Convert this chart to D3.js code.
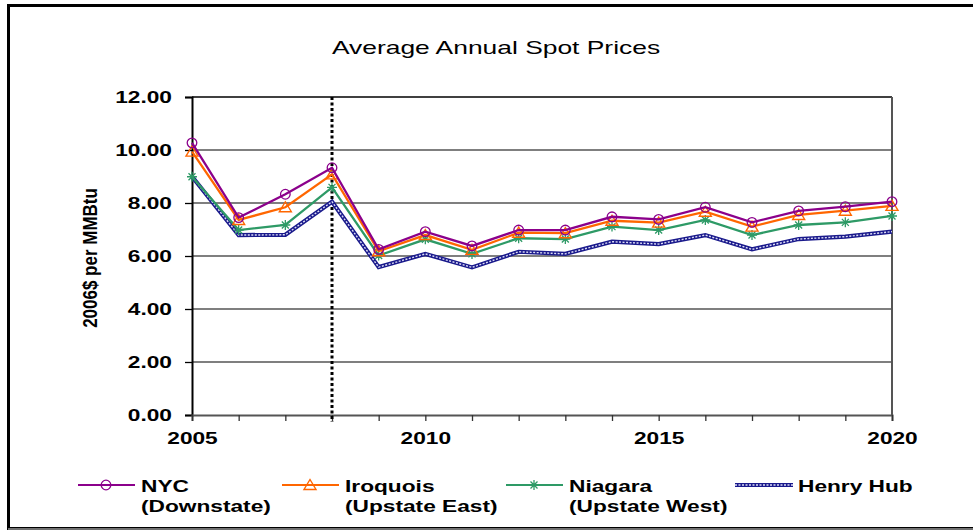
<!DOCTYPE html>
<html>
<head>
<meta charset="utf-8">
<script src="https://cdn.jsdelivr.net/npm/d3@7"></script>
<style>
  body { margin: 0; background: #fff; }
  svg { display: block; font-family: "Liberation Sans", Arial, sans-serif; }
</style>
</head>
<body>
<div id="chart"></div>
<script>
const years = d3.range(2005, 2021);
const nyc = [10.27, 7.45, 8.33, 9.33, 6.25, 6.92, 6.38, 6.98, 6.98, 7.48, 7.38, 7.84, 7.27, 7.70, 7.86, 8.05];
const iroquois = [9.94, 7.36, 7.84, 9.08, 6.18, 6.79, 6.23, 6.88, 6.86, 7.33, 7.26, 7.67, 7.11, 7.55, 7.71, 7.89];
const niagara = [8.99, 6.98, 7.17, 8.59, 6.02, 6.63, 6.08, 6.67, 6.64, 7.11, 6.98, 7.36, 6.79, 7.17, 7.27, 7.51];
const henryHub = [9.00, 6.79, 6.80, 8.05, 5.58, 6.08, 5.57, 6.16, 6.08, 6.54, 6.45, 6.79, 6.25, 6.64, 6.73, 6.92];
const yTicks = [0, 2, 4, 6, 8, 10, 12];
const xLabels = [2005, 2010, 2015, 2020];
const markerYear = 2008;

const series = [
  { name: ['NYC', '(Downstate)'], values: nyc, color: '#8B008B', marker: 'circle' },
  { name: ['Iroquois', '(Upstate East)'], values: iroquois, color: '#FF6600', marker: 'triangle' },
  { name: ['Niagara', '(Upstate West)'], values: niagara, color: '#2E9A66', marker: 'star' },
  { name: ['Henry Hub'], values: henryHub, color: '#000080', marker: 'none' },
];

const W = 973, H = 531;
const SX = 1.42; // the original picture is stretched sideways, text too

const svg = d3.select('#chart').append('svg').attr('width', W).attr('height', H);

// widen a text element around its own anchor point
function widen(sel) {
  sel.each(function () {
    const t = d3.select(this);
    const tx = +t.attr('x') || 0;
    const ty = +t.attr('y') || 0;
    t.attr('x', 0).attr('y', 0).attr('transform', `translate(${tx},${ty}) scale(${SX},1)`);
  });
}

// outer frame
svg.append('rect').attr('x', 8.5).attr('y', 5.5).attr('width', W + 10).attr('height', 523)
  .attr('fill', 'none').attr('stroke', '#000').attr('stroke-width', 3);
svg.append('line').attr('x1', 8).attr('x2', W).attr('y1', 529).attr('y2', 529)
  .attr('stroke', '#999').attr('stroke-width', 1.5);

const x = d3.scaleLinear().domain([2005, 2020]).range([192, 892]);
const y = d3.scaleLinear().domain([0, 12]).range([415, 97]);

svg.append('text').attr('x', 496).attr('y', 54).attr('text-anchor', 'middle')
  .attr('font-size', 18.6).text('Average Annual Spot Prices')
  .call(widen);

// grid
svg.append('g').selectAll('line').data(yTicks.filter((d) => d > 0)).join('line')
  .attr('x1', 192).attr('x2', 892).attr('y1', (d) => y(d)).attr('y2', (d) => y(d))
  .attr('stroke', (d) => (d === 12 ? '#000' : '#555')).attr('stroke-width', 1.3);
svg.append('line').attr('x1', 892).attr('x2', 892).attr('y1', 97).attr('y2', 415)
  .attr('stroke', '#555').attr('stroke-width', 2);

// y axis
const yAxis = svg.append('g').attr('transform', 'translate(192,0)')
  .call(d3.axisLeft(y).tickValues(yTicks).tickSize(7).tickPadding(13).tickFormat(d3.format('.2f')));
yAxis.select('.domain').attr('stroke', '#000').attr('stroke-width', 2);
yAxis.selectAll('.tick line').attr('stroke', '#000').attr('stroke-width', 1.3);
yAxis.selectAll('text').attr('font-size', 16).attr('font-weight', 'bold')
  .attr('font-family', '"Liberation Sans", Arial, sans-serif').attr('fill', '#000')
  .call(widen);

// x axis
const xAxis = svg.append('g').attr('transform', 'translate(0,415)')
  .call(d3.axisBottom(x).tickValues(years).tickSize(6).tickPadding(12)
    .tickFormat((d) => (xLabels.includes(d) ? d : '')));
xAxis.select('.domain').attr('stroke', '#555').attr('stroke-width', 2);
xAxis.selectAll('.tick line').attr('stroke', '#333').attr('stroke-width', 1.3);
xAxis.selectAll('text').attr('font-size', 16).attr('font-weight', 'bold')
  .attr('font-family', '"Liberation Sans", Arial, sans-serif').attr('fill', '#000')
  .call(widen);

svg.append('text')
  .attr('transform', 'translate(97,258) rotate(-90) scale(1,1.15)')
  .attr('text-anchor', 'middle').attr('font-size', 17).attr('font-weight', 'bold')
  .text('2006$ per MMBtu');

// vertical dotted line
svg.append('line').attr('x1', x(markerYear)).attr('x2', x(markerYear)).attr('y1', 97).attr('y2', 422)
  .attr('stroke', '#000').attr('stroke-width', 3).attr('stroke-dasharray', '3,2.5');

const line = d3.line().x((d, i) => x(years[i])).y((d) => y(d));

function drawMarker(g, type, color, cx, cy) {
  if (type === 'circle') {
    g.append('circle').attr('cx', cx).attr('cy', cy).attr('r', 4.8)
      .attr('fill', 'none').attr('stroke', color).attr('stroke-width', 1.3);
  } else if (type === 'triangle') {
    g.append('path').attr('d', `M${cx},${cy - 5.5}L${cx + 6},${cy + 4.5}L${cx - 6},${cy + 4.5}Z`)
      .attr('fill', 'none').attr('stroke', color).attr('stroke-width', 1.4);
  } else if (type === 'star') {
    const r = 5;
    g.append('path')
      .attr('d', `M${cx - r},${cy}L${cx + r},${cy}M${cx - r * 0.7},${cy - r * 0.7}L${cx + r * 0.7},${cy + r * 0.7}`
        + `M${cx - r * 0.7},${cy + r * 0.7}L${cx + r * 0.7},${cy - r * 0.7}M${cx},${cy - r}L${cx},${cy + r}`)
      .attr('stroke', color).attr('stroke-width', 1.3);
  }
}

function drawHenry(g, d) {
  g.append('path').attr('d', d).attr('fill', 'none').attr('stroke', '#1a1a8c').attr('stroke-width', 4.2);
  g.append('path').attr('d', d).attr('fill', 'none').attr('stroke', '#dcdcf5').attr('stroke-width', 1.4)
    .attr('stroke-dasharray', '2,1.5');
}

// series, drawn bottom to top
[...series].reverse().forEach((s) => {
  const g = svg.append('g');
  if (s.marker === 'none') {
    drawHenry(g, line(s.values));
  } else {
    g.append('path').attr('d', line(s.values)).attr('fill', 'none')
      .attr('stroke', s.color).attr('stroke-width', 2.3);
    s.values.forEach((v, i) => drawMarker(g, s.marker, s.color, x(years[i]), y(v)));
  }
});

// legend
const legendX = [78, 282, 506, 735];
series.forEach((s, i) => {
  const g = svg.append('g');
  const lx = legendX[i];
  const ly = 485;
  if (s.marker === 'none') {
    drawHenry(g, `M${lx},${ly}L${lx + 58},${ly}`);
  } else {
    g.append('line').attr('x1', lx).attr('x2', lx + 57).attr('y1', ly).attr('y2', ly)
      .attr('stroke', s.color).attr('stroke-width', 2);
    drawMarker(g, s.marker, s.color, lx + 28, ly);
  }
  const t = g.append('text')
    .attr('transform', `translate(${lx + 63},${ly + 7}) scale(${SX},1)`)
    .attr('font-size', 16).attr('font-weight', 'bold');
  s.name.forEach((n, k) => {
    t.append('tspan').attr('x', 0).attr('dy', k === 0 ? 0 : 20).text(n);
  });
});
</script>
</body>
</html>
